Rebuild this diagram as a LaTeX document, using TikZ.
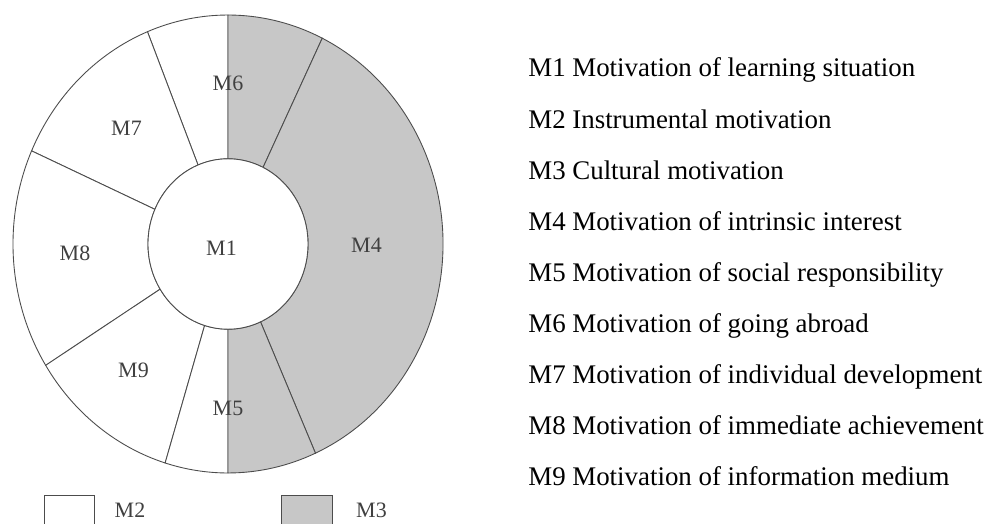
\documentclass[tikz,border=0pt]{standalone}
\usepackage{fontspec}
\setmainfont{Liberation Serif}
\usepackage{tikz}
\usetikzlibrary{positioning}

\tikzset{
  seg/.style={draw=black!70, line width=0.5pt, fill=white},
  grayseg/.style={seg, fill=black!22},
  seglabel/.style={font=\fontsize{12.5}{14}\selectfont, text=black!75, inner sep=0pt},
  listitem/.style={anchor=base west, font=\fontsize{15.3}{18}\selectfont, inner sep=0pt}
}

\begin{document}
\begin{tikzpicture}
            % page frame
            \clip (-4.56,-5.6) rectangle (15.3,4.88);
            \fill[white] (-4.56,-5.6) rectangle (15.3,4.88);
            % ring of segments, slightly taller than wide
            \begin{scope}[yscale=1.065]
            % white segments
            \path[seg] (90:4.3) arc[start angle=90, end angle=112, radius=4.3] -- (112:1.6) arc[start angle=112, end angle=90, radius=1.6] -- cycle;
            \path[seg] (112:4.3) arc[start angle=112, end angle=156, radius=4.3] -- (156:1.6) arc[start angle=156, end angle=112, radius=1.6] -- cycle;
            \path[seg] (156:4.3) arc[start angle=156, end angle=212, radius=4.3] -- (212:1.6) arc[start angle=212, end angle=156, radius=1.6] -- cycle;
            \path[seg] (212:4.3) arc[start angle=212, end angle=253, radius=4.3] -- (253:1.6) arc[start angle=253, end angle=212, radius=1.6] -- cycle;
            \path[seg] (253:4.3) arc[start angle=253, end angle=270, radius=4.3] -- (270:1.6) arc[start angle=270, end angle=253, radius=1.6] -- cycle;
            % gray segments
            \path[grayseg] (64:4.3) arc[start angle=64, end angle=90, radius=4.3] -- (90:1.6) arc[start angle=90, end angle=64, radius=1.6] -- cycle;
            \path[grayseg] (-66:4.3) arc[start angle=-66, end angle=64, radius=4.3] -- (64:1.6) arc[start angle=64, end angle=-66, radius=1.6] -- cycle;
            \path[grayseg] (-90:4.3) arc[start angle=-90, end angle=-66, radius=4.3] -- (-66:1.6) arc[start angle=-66, end angle=-90, radius=1.6] -- cycle;
            % centre
            \path[seg] (0,0) circle[radius=1.6];
            \end{scope}
            % segment labels
            \node[seglabel] (m1) at (-0.13,-0.09) {M1};
            \node[seglabel] (m4) at (2.77,-0.02) {M4};
            \node[seglabel] (m5) at (0,-3.29) {M5};
            \node[seglabel] (m6) at (0,3.21) {M6};
            \node[seglabel] (m7) at (-2.03,2.31) {M7};
            \node[seglabel] (m8) at (-3.06,-0.19) {M8};
            \node[seglabel] (m9) at (-1.89,-2.52) {M9};
            % legend
            \draw[black!70, line width=0.5pt, fill=white] (-3.67,-5.02) rectangle (-2.68,-5.9);
            \node[seglabel] (m2key) at (-1.96,-5.32) {M2};
            \draw[black!70, line width=0.5pt, fill=black!22] (1.07,-5.02) rectangle (2.09,-5.9);
            \node[seglabel] (m3key) at (2.87,-5.32) {M3};
            % list of motivations
            \foreach \txt [count=\i] in {Motivation of learning situation, Instrumental motivation,
                Cultural motivation, Motivation of intrinsic interest, Motivation of social responsibility,
                Motivation of going abroad, Motivation of individual development,
                Motivation of immediate achievement, Motivation of information medium}
                \node[listitem] (item\i) at (6.0,{3.34-1.022*(\i-1)}) {M\i\ \txt};
        \end{tikzpicture}
\end{document}
